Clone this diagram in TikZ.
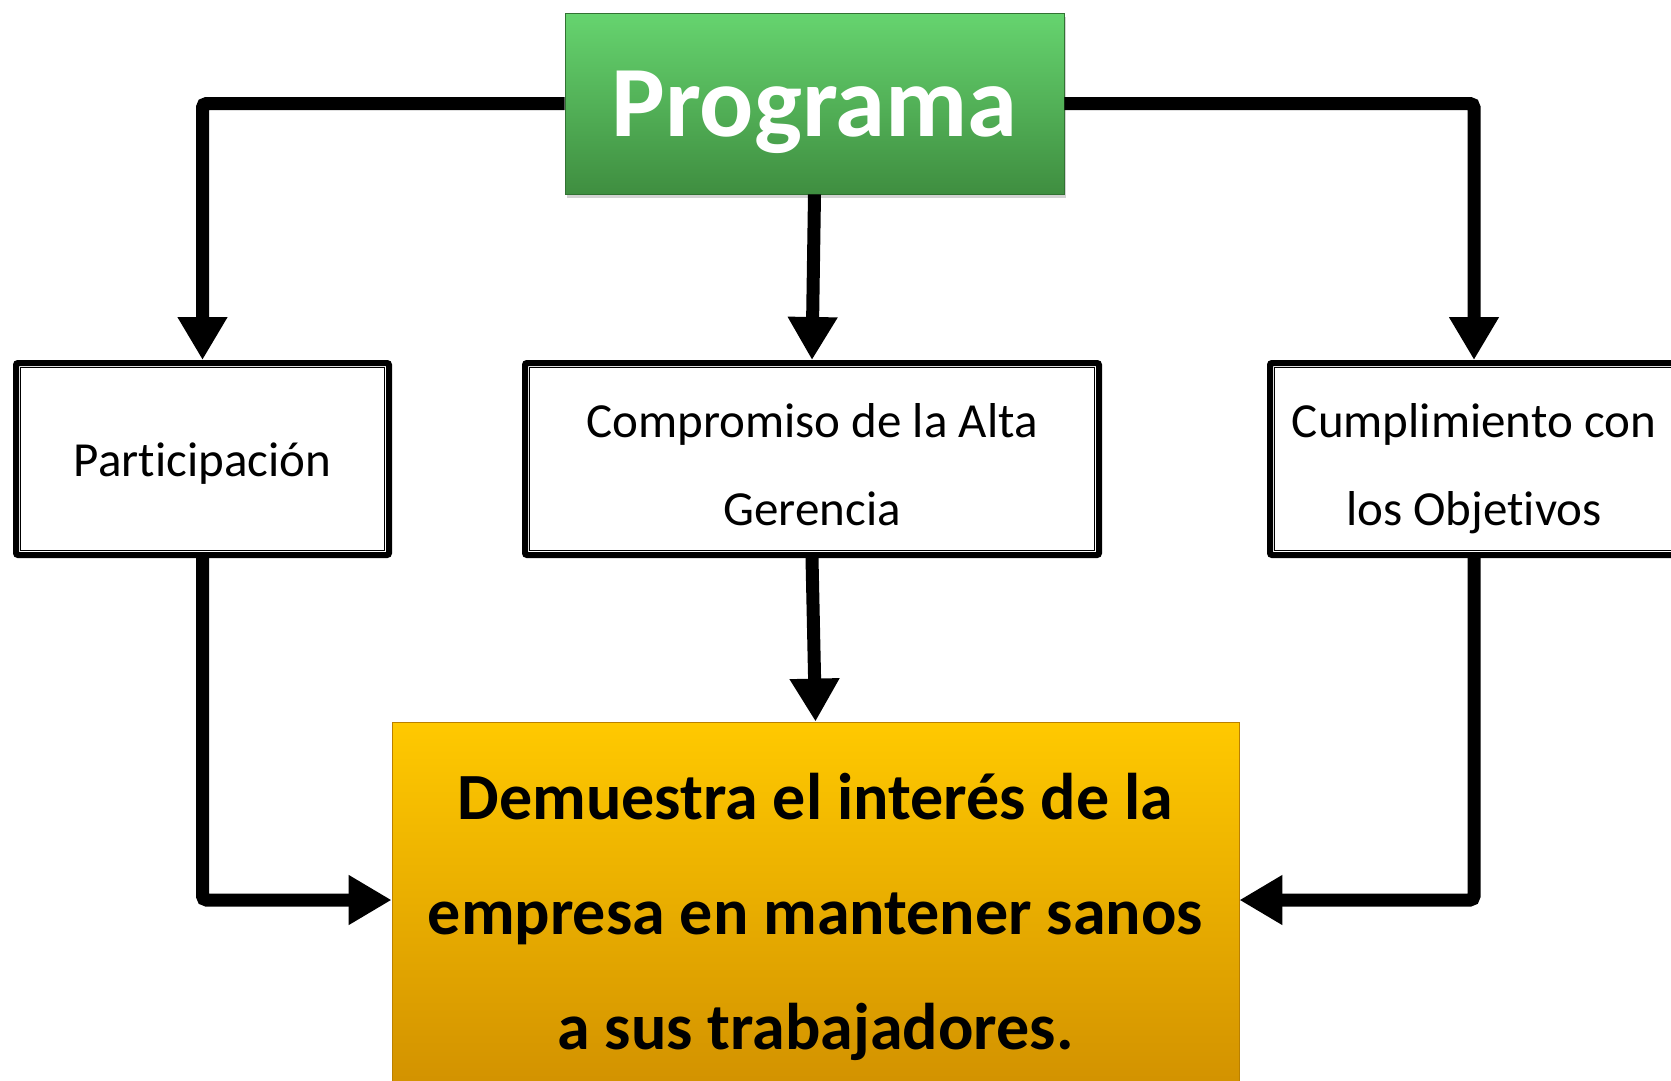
\documentclass[tikz,border=0pt]{standalone}
\usepackage{fontspec}
\setmainfont{Carlito}[Ligatures=NoCommon]
\usetikzlibrary{arrows.meta,shadows}
\definecolor{gtop}{HTML}{66D46F}
\definecolor{gbot}{HTML}{3F8E40}
\definecolor{otop}{HTML}{FFC900}
\definecolor{omid}{HTML}{F5A800}
\definecolor{obot}{HTML}{CF8E00}
\tikzset{
  conn/.style={line width=13pt, rounded corners=4pt, -{Triangle[width=47pt,length=43pt]}},
  dbox/.style={draw=black, line width=6pt, rounded corners=2pt, fill=white, inner sep=0pt},
  inner/.style={line width=1.6pt},
  lbl/.style={anchor=base, inner sep=0pt, font=\fontsize{49}{60}\selectfont},
  prog/.style={top color=gtop, bottom color=gbot, draw=gbot!80!black, line width=0.8pt,
    drop shadow={shadow xshift=2pt, shadow yshift=-4pt, opacity=0.35}, inner sep=0pt},
  progtxt/.style={anchor=base, inner sep=0pt, text=white, font=\fontsize{101}{110}\selectfont\bfseries},
  res/.style={top color=otop, middle color=omid, bottom color=obot, draw=obot!90!black, line width=0.8pt, inner sep=0pt},
  restxt/.style={anchor=base, inner sep=0pt, font=\fontsize{66}{80}\selectfont\bfseries}
}
\begin{document}
\begin{tikzpicture}[x=1pt,y=-1pt]
\useasboundingbox (0,0) rectangle (1671,1080);
\clip (0,0) rectangle (1671,1080);
% boxes
\node[prog, minimum width=499pt, minimum height=181pt] (g) at (814.5,103.5) {};
\node[progtxt] (gt) at (g.center |- 0,136) {Programa};
\node[dbox, minimum width=373pt, minimum height=192pt] (p) at (202.5,459) {};
\node[dbox, minimum width=574pt, minimum height=192pt] (c) at (812,459) {};
\node[dbox, minimum width=408pt, minimum height=192pt] (o) at (1474,459) {};
\foreach \n in {p,c,o}{
  \draw[inner] ([xshift=7.5pt,yshift=-7.5pt]\n.north west) rectangle ([xshift=-7.5pt,yshift=7.5pt]\n.south east);
}
\node[lbl] (pt) at (p.center |- 0,476) {Participación};
\node[lbl] (ct1) at (c.center |- 0,437) {Compromiso de la Alta};
\node[lbl] (ct2) at (c.center |- 0,525) {Gerencia};
\node[lbl] (ot1) at (o.center |- 0,437) {Cumplimiento con};
\node[lbl] (ot2) at (o.center |- 0,525) {los Objetivos};
\node[res, minimum width=847pt, minimum height=390pt] (b) at (815.5,917) {};
\node[restxt] (bt1) at (b.center |- 0,819) {Demuestra el interés de la};
\node[restxt] (bt2) at (b.center |- 0,934) {empresa en mantener sanos};
\node[restxt] (bt3) at (b.center |- 0,1049) {a sus trabajadores.};
% connectors
\draw[conn] (g.west) -| (p.north);
\draw[conn] (g.east) -| (o.north);
\draw[conn] (g.south) -- (c.north);
\draw[conn] (p.south) |- ([yshift=17pt]b.west);
\draw[conn] (o.south) |- ([yshift=17pt]b.east);
\draw[conn] (c.south) -- (b.north);
\end{tikzpicture}
\end{document}
